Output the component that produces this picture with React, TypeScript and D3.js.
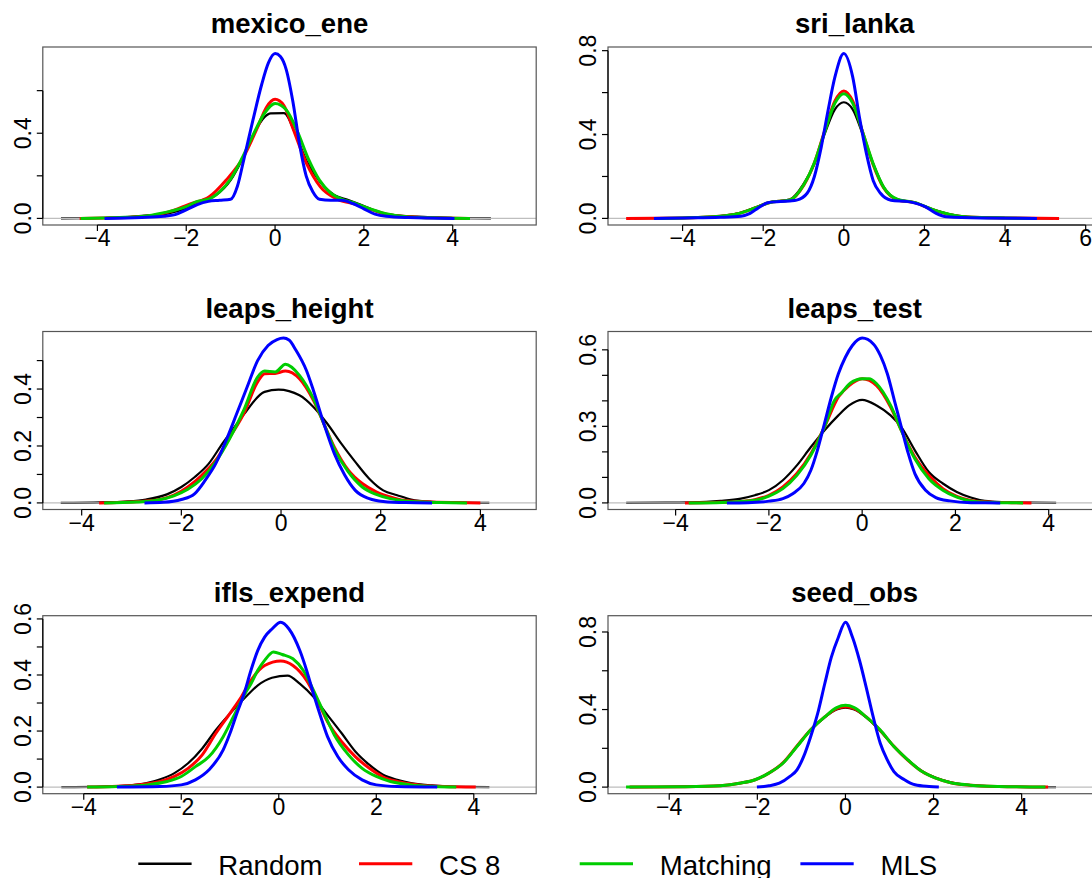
import * as d3 from "d3";

type Pt = [number, number];

const panelTitles = ["mexico_ene", "sri_lanka", "leaps_height", "leaps_test", "ifls_expend", "seed_obs"];
const seriesNames = ["Random", "CS 8", "Matching", "MLS"];
const seriesColors = ["#000000", "#ff0000", "#00cd00", "#0000ff"];

// axis limits / ticks
const xLimits: [number, number][] = [
  [-5.23, 5.88], [-5.85, 6.39], [-4.78, 5.12], [-5.45, 5.13], [-4.84, 5.28], [-5.39, 5.81],
];
const xTicks = [
  [-4, -2, 0, 2, 4], [-4, -2, 0, 2, 4, 6], [-4, -2, 0, 2, 4], [-4, -2, 0, 2, 4], [-4, -2, 0, 2, 4], [-4, -2, 0, 2, 4],
];
const yTicks = [
  [0, 0.2, 0.4, 0.6], [0, 0.2, 0.4, 0.6, 0.8], [0, 0.1, 0.2, 0.3, 0.4, 0.5],
  [0, 0.1, 0.2, 0.3, 0.4, 0.5, 0.6], [0, 0.1, 0.2, 0.3, 0.4, 0.5, 0.6], [0, 0.2, 0.4, 0.6, 0.8],
];
const yLabels = [[0, 0.4], [0, 0.4, 0.8], [0, 0.2, 0.4], [0, 0.3, 0.6], [0, 0.2, 0.4, 0.6], [0, 0.4, 0.8]];

// mexico_ene
const mexicoRandom: Pt[] = [[-4.82,0],[-3.6,0.003],[-3.2,0.008],[-2.8,0.015],[-2.4,0.024],[-2.0,0.048],[-1.65,0.085],[-1.33,0.11],[-1.0,0.18],[-0.71,0.29],[-0.47,0.4],[-0.24,0.475],[-0.1,0.493],[0.2,0.494],[0.47,0.39],[0.71,0.27],[1.02,0.17],[1.33,0.11],[1.65,0.086],[2.04,0.055],[2.43,0.023],[3.2,0.008],[4.0,0.002],[4.86,0]];
const mexicoCS8: Pt[] = [[-4.4,0],[-3.84,0.002],[-3.06,0.008],[-2.67,0.016],[-2.27,0.039],[-1.88,0.07],[-1.49,0.1],[-1.1,0.18],[-0.71,0.288],[-0.39,0.43],[-0.2,0.52],[0,0.559],[0.2,0.53],[0.39,0.43],[0.71,0.257],[1.02,0.148],[1.41,0.089],[1.8,0.067],[2.2,0.039],[2.59,0.016],[3.2,0.006],[3.8,0.002],[4.35,0]];
const mexicoMatching: Pt[] = [[-4.38,0],[-3.5,0.004],[-3.0,0.009],[-2.5,0.027],[-2.0,0.055],[-1.75,0.08],[-1.5,0.09],[-1.25,0.125],[-1.0,0.185],[-0.75,0.28],[-0.5,0.39],[-0.25,0.49],[0,0.54],[0.25,0.51],[0.5,0.41],[0.75,0.28],[1.0,0.18],[1.25,0.12],[1.5,0.09],[1.75,0.075],[2.0,0.055],[2.5,0.022],[3.0,0.007],[3.7,0.002],[4.39,0]];
const mexicoMLS: Pt[] = [[-3.84,0],[-3.0,0.004],[-2.5,0.01],[-2.25,0.018],[-2.0,0.04],[-1.75,0.065],[-1.5,0.08],[-1.25,0.085],[-1.0,0.09],[-0.85,0.15],[-0.7,0.28],[-0.5,0.46],[-0.3,0.63],[-0.15,0.73],[0,0.774],[0.12,0.76],[0.25,0.7],[0.4,0.55],[0.55,0.35],[0.7,0.2],[0.85,0.125],[1.0,0.09],[1.25,0.085],[1.5,0.085],[1.75,0.07],[2.0,0.045],[2.25,0.02],[2.5,0.01],[3.0,0.004],[4.04,0]];

// sri_lanka
const sriRandom: Pt[] = [[-5.2,0],[-4,0.002],[-3.07,0.011],[-2.63,0.024],[-2.2,0.052],[-1.86,0.076],[-1.34,0.09],[-0.99,0.167],[-0.73,0.26],[-0.47,0.405],[-0.22,0.52],[0,0.554],[0.22,0.52],[0.47,0.4],[0.73,0.26],[0.99,0.15],[1.34,0.09],[1.77,0.075],[2.2,0.043],[2.63,0.02],[3.07,0.008],[4,0.002],[5.2,0]];
const sriCS8: Pt[] = [[-5.4,0],[-4,0.002],[-3.07,0.01],[-2.63,0.022],[-2.2,0.05],[-1.86,0.075],[-1.34,0.088],[-0.99,0.16],[-0.73,0.265],[-0.47,0.42],[-0.22,0.56],[0,0.608],[0.22,0.56],[0.47,0.41],[0.73,0.255],[0.99,0.145],[1.34,0.088],[1.77,0.074],[2.2,0.042],[2.63,0.018],[3.07,0.007],[4,0.002],[5.34,0]];
const sriMatching: Pt[] = [[-4.6,0],[-4,0.002],[-3.07,0.01],[-2.63,0.022],[-2.2,0.05],[-1.86,0.075],[-1.34,0.088],[-0.99,0.162],[-0.73,0.265],[-0.47,0.415],[-0.22,0.55],[0,0.595],[0.22,0.55],[0.47,0.41],[0.73,0.26],[0.99,0.148],[1.34,0.09],[1.77,0.075],[2.2,0.043],[2.63,0.019],[3.07,0.007],[4,0.002],[4.7,0]];
const sriMLS: Pt[] = [[-4.71,0],[-3.93,0.002],[-3.07,0.005],[-2.55,0.01],[-2.37,0.02],[-2.2,0.04],[-1.86,0.076],[-1.34,0.083],[-1.17,0.087],[-0.91,0.12],[-0.73,0.2],[-0.56,0.34],[-0.39,0.516],[-0.22,0.675],[0,0.786],[0.22,0.675],[0.39,0.48],[0.56,0.31],[0.73,0.18],[0.91,0.12],[1.17,0.087],[1.6,0.08],[2.03,0.055],[2.29,0.024],[2.55,0.008],[3.41,0.002],[4.79,0]];

// leaps_height
const heightRandom: Pt[] = [[-4.42,0],[-3.6,0.002],[-3.13,0.005],[-2.71,0.012],[-2.29,0.03],[-2.0,0.056],[-1.73,0.091],[-1.45,0.138],[-1.17,0.21],[-0.96,0.26],[-0.75,0.31],[-0.33,0.39],[-0.05,0.398],[0.37,0.378],[0.65,0.337],[0.93,0.278],[1.21,0.208],[1.49,0.144],[1.77,0.085],[2.05,0.044],[2.33,0.027],[2.61,0.012],[3.03,0.004],[3.6,0.001],[4.18,0]];
const heightCS8: Pt[] = [[-3.65,0],[-2.85,0.005],[-2.43,0.012],[-2.15,0.027],[-1.87,0.056],[-1.59,0.097],[-1.31,0.15],[-1.03,0.23],[-0.75,0.313],[-0.47,0.425],[-0.33,0.454],[-0.12,0.455],[0.09,0.463],[0.37,0.436],[0.65,0.36],[0.86,0.278],[1.07,0.196],[1.35,0.115],[1.63,0.068],[1.91,0.039],[2.19,0.021],[2.47,0.009],[2.89,0.004],[3.5,0.001],[4.0,0]];
const heightMatching: Pt[] = [[-3.55,0],[-2.9,0.003],[-2.5,0.009],[-2.15,0.025],[-1.87,0.048],[-1.59,0.085],[-1.31,0.144],[-1.03,0.226],[-0.75,0.325],[-0.47,0.442],[-0.33,0.463],[-0.12,0.46],[0.09,0.487],[0.37,0.448],[0.65,0.366],[0.86,0.278],[1.07,0.19],[1.35,0.109],[1.63,0.056],[1.91,0.03],[2.19,0.015],[2.61,0.005],[3.2,0.001],[3.73,0]];
const heightMLS: Pt[] = [[-2.74,0],[-2.36,0.002],[-2.0,0.012],[-1.73,0.033],[-1.52,0.08],[-1.31,0.138],[-1.1,0.22],[-0.89,0.313],[-0.68,0.407],[-0.47,0.5],[-0.26,0.553],[-0.08,0.574],[0.05,0.579],[0.16,0.572],[0.3,0.536],[0.51,0.465],[0.65,0.395],[0.86,0.278],[1.07,0.173],[1.28,0.097],[1.49,0.044],[1.77,0.015],[2.05,0.005],[2.5,0.001],[3.03,0]];

// leaps_test
const testRandom: Pt[] = [[-5.06,0],[-4.2,0.001],[-3.64,0.002],[-3.04,0.008],[-2.6,0.017],[-2.3,0.03],[-2.0,0.05],[-1.7,0.089],[-1.4,0.147],[-1.1,0.219],[-0.81,0.284],[-0.51,0.343],[-0.28,0.382],[0,0.404],[0.31,0.382],[0.61,0.343],[0.84,0.297],[1.13,0.206],[1.43,0.121],[1.73,0.076],[2.03,0.043],[2.33,0.021],[2.63,0.008],[3.07,0.003],[3.6,0.001],[4.16,0]];
const testCS8: Pt[] = [[-3.8,0],[-3.2,0.002],[-2.75,0.004],[-2.3,0.013],[-2.0,0.03],[-1.7,0.063],[-1.4,0.115],[-1.1,0.193],[-0.81,0.297],[-0.51,0.415],[-0.28,0.46],[0,0.487],[0.31,0.46],[0.61,0.376],[0.84,0.284],[1.13,0.18],[1.43,0.108],[1.73,0.056],[2.03,0.026],[2.33,0.01],[2.78,0.003],[3.2,0.001],[3.63,0]];
const testMatching: Pt[] = [[-3.72,0],[-3.0,0.002],[-2.3,0.01],[-2.0,0.027],[-1.7,0.056],[-1.4,0.108],[-1.1,0.187],[-0.81,0.297],[-0.6,0.4],[-0.43,0.434],[-0.25,0.47],[0,0.487],[0.15,0.487],[0.31,0.467],[0.61,0.382],[0.84,0.284],[1.13,0.173],[1.43,0.095],[1.73,0.05],[2.03,0.023],[2.33,0.008],[2.8,0.002],[3.45,0]];
const testMLS: Pt[] = [[-2.9,0],[-2.45,0.001],[-2.0,0.007],[-1.7,0.017],[-1.48,0.037],[-1.25,0.076],[-1.1,0.128],[-0.96,0.206],[-0.81,0.31],[-0.66,0.415],[-0.51,0.506],[-0.36,0.571],[-0.21,0.617],[0,0.646],[0.24,0.623],[0.39,0.578],[0.54,0.506],[0.69,0.402],[0.84,0.297],[0.99,0.193],[1.13,0.115],[1.36,0.05],[1.58,0.021],[1.88,0.008],[2.33,0.001],[2.96,0]];

// ifls_expend
const iflsRandom: Pt[] = [[-4.46,0],[-3.6,0.002],[-3.14,0.005],[-2.71,0.014],[-2.43,0.028],[-2.14,0.05],[-1.86,0.085],[-1.57,0.138],[-1.29,0.204],[-1.0,0.263],[-0.71,0.316],[-0.43,0.363],[-0.14,0.39],[0.18,0.398],[0.43,0.369],[0.71,0.322],[1.0,0.257],[1.29,0.192],[1.57,0.127],[1.86,0.079],[2.14,0.044],[2.43,0.026],[2.71,0.014],[3.14,0.006],[3.7,0.001],[4.32,0]];
const iflsCS8: Pt[] = [[-3.93,0],[-3.3,0.003],[-2.86,0.008],[-2.43,0.02],[-2.14,0.038],[-1.86,0.067],[-1.57,0.115],[-1.29,0.192],[-1.0,0.263],[-0.79,0.316],[-0.57,0.381],[-0.29,0.434],[0.04,0.45],[0.29,0.434],[0.57,0.381],[0.79,0.31],[1.0,0.233],[1.29,0.162],[1.57,0.109],[1.86,0.067],[2.14,0.036],[2.43,0.02],[2.86,0.008],[3.4,0.002],[4.04,0]];
const iflsMatching: Pt[] = [[-3.93,0],[-3.3,0.002],[-2.71,0.008],[-2.29,0.02],[-2.0,0.038],[-1.71,0.073],[-1.43,0.109],[-1.14,0.18],[-0.93,0.251],[-0.71,0.328],[-0.57,0.369],[-0.43,0.417],[-0.29,0.452],[-0.11,0.482],[0.07,0.473],[0.29,0.458],[0.5,0.417],[0.71,0.346],[0.93,0.263],[1.14,0.186],[1.43,0.115],[1.71,0.067],[2.0,0.038],[2.29,0.02],[2.71,0.008],[3.2,0.002],[3.64,0]];
const iflsMLS: Pt[] = [[-3.32,0],[-2.43,0.002],[-2.0,0.008],[-1.71,0.026],[-1.43,0.062],[-1.14,0.133],[-1.0,0.192],[-0.86,0.263],[-0.71,0.334],[-0.57,0.417],[-0.43,0.488],[-0.29,0.535],[-0.14,0.564],[0.04,0.588],[0.21,0.564],[0.43,0.488],[0.57,0.417],[0.71,0.334],[0.86,0.251],[1.0,0.18],[1.21,0.109],[1.43,0.062],[1.71,0.026],[2.0,0.008],[2.43,0.002],[3.25,0]];

// seed_obs
const seedRandom: Pt[] = [[-4.9,0],[-3.63,0.002],[-2.84,0.007],[-2.37,0.021],[-2.05,0.038],[-1.74,0.072],[-1.42,0.123],[-1.1,0.209],[-0.79,0.294],[-0.47,0.36],[-0.2,0.4],[0,0.41],[0.2,0.4],[0.47,0.36],[0.79,0.29],[1.1,0.21],[1.42,0.14],[1.74,0.082],[2.05,0.048],[2.37,0.026],[2.84,0.01],[3.48,0.003],[4.78,0]];
const seedCS8: Pt[] = [[-4.9,0],[-3.63,0.002],[-2.84,0.007],[-2.37,0.021],[-2.05,0.038],[-1.74,0.072],[-1.42,0.125],[-1.1,0.212],[-0.79,0.296],[-0.47,0.362],[-0.2,0.405],[0,0.415],[0.2,0.405],[0.47,0.362],[0.79,0.292],[1.1,0.21],[1.42,0.138],[1.74,0.08],[2.05,0.046],[2.37,0.024],[2.84,0.009],[3.48,0.003],[4.6,0]];
const seedMatching: Pt[] = [[-4.98,0],[-3.63,0.002],[-2.84,0.007],[-2.37,0.021],[-2.05,0.038],[-1.74,0.072],[-1.42,0.123],[-1.1,0.209],[-0.79,0.294],[-0.47,0.362],[-0.2,0.41],[0,0.422],[0.2,0.41],[0.47,0.362],[0.79,0.294],[1.1,0.209],[1.42,0.14],[1.74,0.08],[2.05,0.046],[2.37,0.024],[2.84,0.01],[3.48,0.003],[4.54,0]];
const seedMLS: Pt[] = [[-2.01,0],[-1.74,0.007],[-1.5,0.02],[-1.26,0.055],[-1.1,0.089],[-0.95,0.157],[-0.79,0.26],[-0.63,0.38],[-0.47,0.533],[-0.32,0.67],[-0.16,0.773],[0,0.85],[0.16,0.773],[0.32,0.653],[0.47,0.516],[0.63,0.362],[0.79,0.226],[0.95,0.14],[1.1,0.08],[1.34,0.038],[1.58,0.012],[1.9,0.003],[2.12,0]];

const panelSeries: Pt[][][] = [
  [mexicoRandom, mexicoCS8, mexicoMatching, mexicoMLS],
  [sriRandom, sriCS8, sriMatching, sriMLS],
  [heightRandom, heightCS8, heightMatching, heightMLS],
  [testRandom, testCS8, testMatching, testMLS],
  [iflsRandom, iflsCS8, iflsMatching, iflsMLS],
  [seedRandom, seedCS8, seedMatching, seedMLS],
];

const FONT = "'Liberation Sans', Arial, Helvetica, sans-serif";
const minus = (v: number) => String(v).replace("-", "\u2212");

function Panel({ idx, left, top, width, height }: { idx: number; left: number; top: number; width: number; height: number }) {
  const series = panelSeries[idx];
  const m = d3.max(series.flat(), (d) => d[1]) ?? 1;
  const x = d3.scaleLinear().domain(xLimits[idx]).range([left, left + width]);
  const y = d3.scaleLinear().domain([-0.04 * m, 1.04 * m]).range([top + height, top]);
  const line = d3
    .line<Pt>()
    .x((d) => x(d[0]))
    .y((d) => y(d[1]))
    .curve(d3.curveMonotoneX);
  const xt = xTicks[idx];
  const yt = yTicks[idx];
  const bottom = top + height;
  const clipId = `clip${idx}`;

  const drawSeries = (i: number) => (
    <path
      key={i}
      d={line(series[i]) ?? ""}
      fill="none"
      stroke={seriesColors[i]}
      strokeWidth={i === 0 ? 2.2 : 3}
      strokeLinejoin="round"
      strokeLinecap="butt"
    />
  );

  return (
    <g>
      <clipPath id={clipId}>
        <rect x={left} y={top} width={width} height={height} />
      </clipPath>
      <g clipPath={`url(#${clipId})`}>
        {drawSeries(0)}
        <line x1={left} x2={left + width} y1={y(0)} y2={y(0)} stroke="#bebebe" strokeWidth={1.2} />
        {drawSeries(1)}
        {drawSeries(2)}
        {drawSeries(3)}
      </g>
      <rect x={left} y={top} width={width} height={height} fill="none" stroke="#555" strokeWidth={1.2} />
      {/* x axis */}
      <line x1={x(xt[0])} x2={x(xt[xt.length - 1])} y1={bottom} y2={bottom} stroke="#000" strokeWidth={1.2} />
      {xt.map((t) => (
        <g key={t}>
          <line x1={x(t)} x2={x(t)} y1={bottom} y2={bottom + 6} stroke="#000" strokeWidth={1.2} />
          <text x={x(t)} y={bottom + 21} textAnchor="middle" fontSize={23} fontFamily={FONT}>
            {minus(t)}
          </text>
        </g>
      ))}
      {/* y axis */}
      <line x1={left} x2={left} y1={y(yt[0])} y2={y(yt[yt.length - 1])} stroke="#000" strokeWidth={1.2} />
      {yt.map((t) => (
        <line key={t} x1={left - 6} x2={left} y1={y(t)} y2={y(t)} stroke="#000" strokeWidth={1.2} />
      ))}
      {yLabels[idx].map((t) => (
        <text
          key={t}
          transform={`translate(${left - 12},${y(t)}) rotate(-90)`}
          textAnchor="middle"
          fontSize={23}
          fontFamily={FONT}
        >
          {t.toFixed(1)}
        </text>
      ))}
      <text x={left + width / 2} y={top - 14} textAnchor="middle" fontSize={27.5} fontWeight="bold" fontFamily={FONT}>
        {panelTitles[idx]}
      </text>
    </g>
  );
}

export default function App() {
  const width = 1092;
  const height = 878;
  const colLeft = [42.8, 608];
  const boxW = 493.4;
  const rowTop = [47, 331.5, 615.7];
  const boxH = 178;

  const legendStart = 138.3;
  const legendPitch = 220.7;
  const legendY = 863.7;

  return (
    <svg
      width={width}
      height={height}
      style={{ position: "absolute", left: 0, top: 0, background: "#fff" }}
    >
      <rect width={width} height={height} fill="#fff" />
      {panelTitles.map((_, i) => (
        <Panel key={i} idx={i} left={colLeft[i % 2]} top={rowTop[Math.floor(i / 2)]} width={boxW} height={boxH} />
      ))}
      {seriesNames.map((name, i) => {
        const lx = legendStart + i * legendPitch;
        return (
          <g key={name}>
            <line x1={lx} x2={lx + 53.3} y1={legendY} y2={legendY} stroke={seriesColors[i]} strokeWidth={i === 0 ? 2.6 : 3} />
            <text x={lx + 80} y={legendY + 11} fontSize={27.6} fontFamily={FONT}>
              {name}
            </text>
          </g>
        );
      })}
    </svg>
  );
}
